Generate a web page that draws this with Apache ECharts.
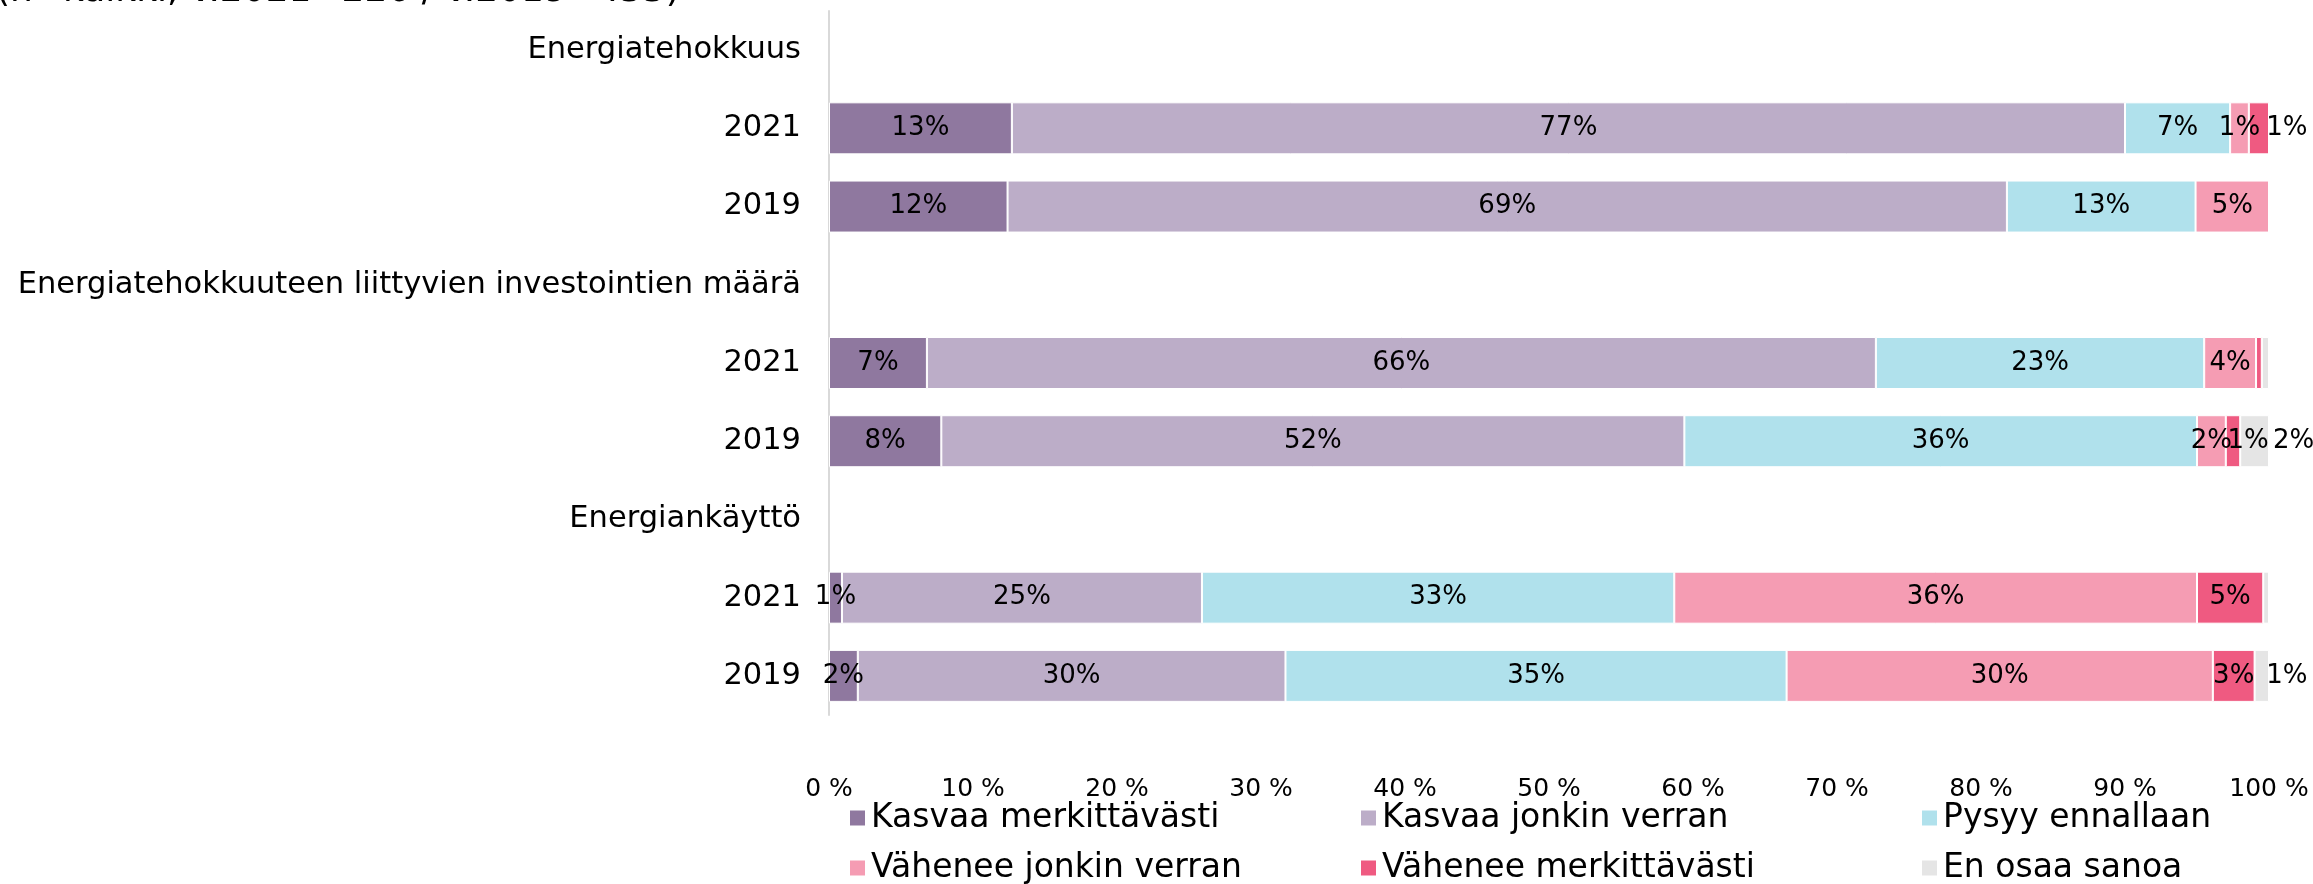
<!DOCTYPE html>
<html>
<head>
<meta charset="utf-8">
<title>Energiatehokkuus</title>
<script src="https://cdn.jsdelivr.net/npm/echarts@6/dist/echarts.min.js"></script>
<style>
    html, body { margin: 0; padding: 0; background: #fff; }
    #main { width: 2313px; height: 884px; }
</style>
</head>
<body>
<div id="main"></div>
<script>
/**
 * Arvot luettu kuvasta (%), otsikkoriveillä null
 */
var categories = ['Energiatehokkuus', '2021', '2019',
    'Energiatehokkuuteen liittyvien investointien määrä', '2021', '2019',
    'Energiankäyttö', '2021', '2019'];

var seriesNames = ['Kasvaa merkittävästi', 'Kasvaa jonkin verran', 'Pysyy ennallaan',
    'Vähenee jonkin verran', 'Vähenee merkittävästi', 'En osaa sanoa'];

var kasvaaMerkittavasti = [null, 12.7, 12.4, null, 6.8, 7.8, null, 0.9, 2.0];
var kasvaaJonkin = [null, 77.3, 69.4, null, 65.9, 51.6, null, 25.0, 29.7];
var pysyyEnnallaan = [null, 7.3, 13.1, null, 22.8, 35.6, null, 32.8, 34.8];
var vaheneeJonkin = [null, 1.3, 5.1, null, 3.6, 2.0, null, 36.3, 29.6];
var vaheneeMerkittavasti = [null, 1.4, 0, null, 0.4, 1.0, null, 4.6, 2.9];
var enOsaaSanoa = [null, 0, 0, null, 0.5, 2.0, null, 0.4, 1.0];

var xTicks = [0, 10, 20, 30, 40, 50, 60, 70, 80, 90, 100];

var subtitle = '(n=kaikki, v.2021=226 / v.2019=455)';

var colors = ['#8f789f', '#bcadc8', '#b0e1ec', '#f59cb3', '#ef5a81', '#e5e5e5'];

// pienten arvojen tekstit siirretty sivuun kuten alkuperäisessä
var labelShift = {
    '4-1': 28,
    '4-5': 15,
    '5-5': 39,
    '5-8': 25
};

var font = 'DejaVu Sans';

function buildSeries() {
    var values = [kasvaaMerkittavasti, kasvaaJonkin, pysyyEnnallaan,
        vaheneeJonkin, vaheneeMerkittavasti, enOsaaSanoa];
    var list = [];
    for (var s = 0; s < values.length; s++) {
        var data = [];
        for (var i = 0; i < values[s].length; i++) {
            var v = values[s][i];
            var shift = labelShift[s + '-' + i];
            if (shift) {
                data.push({ value: v, label: { offset: [shift, 0] } });
            } else {
                data.push(v);
            }
        }
        list.push({
            name: seriesNames[s],
            type: 'bar',
            stack: 'total',
            barWidth: 52,
            itemStyle: {
                color: colors[s],
                borderColor: '#ffffff',
                borderWidth: 1
            },
            label: {
                show: true,
                position: 'inside',
                color: '#000',
                fontFamily: font,
                fontSize: 26,
                formatter: function (p) {
                    // alle puolen prosentin osuuksille ei tekstiä
                    return p.value > 0.5 ? Math.round(p.value) + '%' : '';
                }
            },
            data: data
        });
    }
    return list;
}

function legendColumn(names, left) {
    return {
        data: names,
        orient: 'vertical',
        left: left,
        top: 795,
        height: 120,
        itemGap: 14,
        itemWidth: 17,
        itemHeight: 17,
        icon: 'rect',
        selectedMode: false,
        textStyle: {
            color: '#000',
            fontFamily: font,
            fontSize: 33,
            lineHeight: 36
        }
    };
}

var chart = echarts.init(document.getElementById('main'));

var option = {
    animation: false,
    backgroundColor: '#fff',
    graphic: [{
        type: 'text',
        x: -4,
        y: 10,
        style: {
            text: subtitle,
            font: '36px "DejaVu Sans"',
            fill: '#000',
            verticalAlign: 'bottom'
        }
    }],
    grid: {
        left: 829,
        right: 44,
        top: 11,
        height: 704
    },
    legend: [
        legendColumn([seriesNames[0], seriesNames[3]], 843),
        legendColumn([seriesNames[1], seriesNames[4]], 1354),
        legendColumn([seriesNames[2], seriesNames[5]], 1915)
    ],
    xAxis: {
        type: 'value',
        min: xTicks[0],
        max: xTicks[xTicks.length - 1],
        interval: xTicks[1] - xTicks[0],
        axisLine: { show: false },
        axisTick: { show: false },
        splitLine: { show: false },
        axisLabel: {
            color: '#000',
            fontFamily: font,
            fontSize: 25,
            margin: 62,
            formatter: '{value} %'
        }
    },
    yAxis: {
        type: 'category',
        inverse: true,
        data: categories,
        axisLine: { lineStyle: { color: '#d9d9d9', width: 2 } },
        axisTick: { show: false },
        axisLabel: {
            color: '#000',
            fontFamily: font,
            fontSize: 30.5,
            margin: 28
        }
    },
    series: buildSeries()
};

chart.setOption(option);
</script>
</body>
</html>
